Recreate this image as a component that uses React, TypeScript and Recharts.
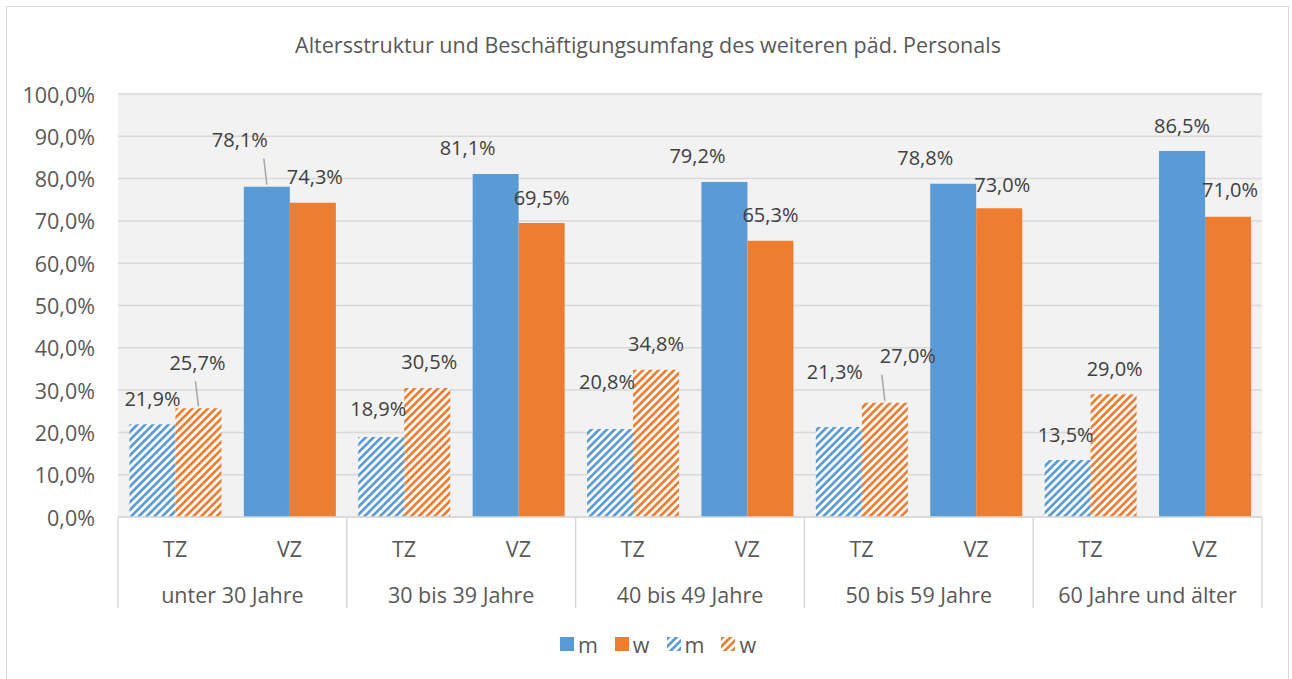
import { Bar, BarChart, CartesianGrid, Cell, LabelList, Legend, XAxis, YAxis } from 'recharts';

const ageGroups = ['unter 30 Jahre', '30 bis 39 Jahre', '40 bis 49 Jahre', '50 bis 59 Jahre', '60 Jahre und älter'];
const scopes = ['TZ', 'VZ'];
// order: TZ, VZ per age group
const mValues = [0.219, 0.781, 0.189, 0.811, 0.208, 0.792, 0.213, 0.788, 0.135, 0.865];
const wValues = [0.257, 0.743, 0.305, 0.695, 0.348, 0.653, 0.27, 0.73, 0.29, 0.71];
const yTicks = [0, 0.1, 0.2, 0.3, 0.4, 0.5, 0.6, 0.7, 0.8, 0.9, 1];
const legendItems = [
  { name: 'm', color: '#5b9bd5', hatched: false },
  { name: 'w', color: '#ed7d31', hatched: false },
  { name: 'm', color: '#5b9bd5', hatched: true },
  { name: 'w', color: '#ed7d31', hatched: true },
];

const data = ageGroups.flatMap((g, gi) =>
  scopes.map((s, si) => ({
    key: `${g}|${s}`,
    m: mValues[gi * 2 + si],
    w: wValues[gi * 2 + si],
  }))
);

const BLUE = '#5b9bd5';
const ORANGE = '#ed7d31';
const TEXT = '#595959';
const GRID = '#d9d9d9';
const FONT = '"Open Sans", sans-serif';
const FS = 21.5;
const LABEL_FS = 20;

const PLOT_LEFT = 118;
const PLOT_RIGHT = 1262;
const PLOT_BOTTOM = 517;
const BAND = (PLOT_RIGHT - PLOT_LEFT) / data.length;

// manual label nudges (dx, dy) as in the original, plus which ones get a leader line
const nudges: Record<string, number[][]> = {
  m: [[0, 0], [-27, -21], [-3, -3], [-28, 0], [-3, -22], [-27, 0], [-4, -29], [-28, 0], [-2, 1], [0, 0]],
  w: [[-1, -20], [2, 0], [2, 0], [0, 0], [0, 0], [0, 0], [23, -21], [3, 2], [1, 0], [2, -1]],
};
const leaders: Record<string, number[]> = { m: [1], w: [0, 6] };

const fmt = (v: number) => (v * 100).toFixed(1).replace('.', ',') + '%';

const makeLabel = (series: 'm' | 'w') => (props: any) => {
  const { x, y, width, index } = props;
  const vals = series === 'm' ? mValues : wValues;
  const [dx, dy] = nudges[series][index];
  const cx = x + width / 2;
  const ly = y - 26 + dy;
  return (
    <g>
      {leaders[series].includes(index) && (
        <line x1={cx - 3} y1={ly + 19} x2={cx} y2={y - 2} stroke="#a6a6a6" strokeWidth={1.5} />
      )}
      <text x={cx + dx} y={ly} textAnchor="middle" dominantBaseline="central" fill="#404040" fontSize={LABEL_FS} fontFamily={FONT}>
        {fmt(vals[index])}
      </text>
    </g>
  );
};

const YTick = (props: any) => (
  <text x={PLOT_LEFT - 23} y={props.y} textAnchor="end" dominantBaseline="central" fill={TEXT} fontSize={FS} fontFamily={FONT}>
    {fmt(props.payload.value)}
  </text>
);

const SubTick = (props: any) => (
  <text x={props.x} y={PLOT_BOTTOM + 31} textAnchor="middle" dominantBaseline="central" fill={TEXT} fontSize={FS} fontFamily={FONT}>
    {String(props.payload.value).split('|')[1]}
  </text>
);

const GroupTick = (props: any) => {
  const { x, index } = props;
  const isStart = index % 2 === 0;
  return (
    <g>
      {isStart && <line x1={x - BAND / 2} y1={PLOT_BOTTOM} x2={x - BAND / 2} y2={PLOT_BOTTOM + 91} stroke={GRID} strokeWidth={1.5} />}
      {index === data.length - 1 && (
        <line x1={x + BAND / 2} y1={PLOT_BOTTOM} x2={x + BAND / 2} y2={PLOT_BOTTOM + 91} stroke={GRID} strokeWidth={1.5} />
      )}
      {isStart && (
        <text x={x + BAND / 2} y={PLOT_BOTTOM + 77} textAnchor="middle" dominantBaseline="central" fill={TEXT} fontSize={FS} fontFamily={FONT}>
          {String(props.payload.value).split('|')[0]}
        </text>
      )}
    </g>
  );
};

const Hatch = ({ id, color }: { id: string; color: string }) => (
  <pattern id={id} patternUnits="userSpaceOnUse" width={5.5} height={5.5} patternTransform="rotate(45)">
    <rect width={5.5} height={5.5} fill="#ffffff" />
    <rect width={2.7} height={5.5} fill={color} />
  </pattern>
);

const LegendContent = () => (
  <div style={{ display: 'flex', justifyContent: 'center', height: 24, alignItems: 'center', fontFamily: FONT, fontSize: FS, color: TEXT, paddingLeft: 24 }}>
    {legendItems.map((it, i) => (
      <div key={i} style={{ display: 'flex', alignItems: 'center', marginRight: i === legendItems.length - 1 ? 0 : 17 }}>
        <svg width={14} height={14} style={{ marginRight: 4 }}>
          <defs>
            <Hatch id={`lg-${i}`} color={it.color} />
          </defs>
          <rect width={14} height={14} fill={it.hatched ? `url(#lg-${i})` : it.color} />
        </svg>
        <span>{it.name}</span>
      </div>
    ))}
  </div>
);

export default function App() {
  return (
    <div style={{ position: 'absolute', left: 0, top: 0, width: 1292, height: 679, background: '#fff', overflow: 'hidden' }}>
      <div style={{ position: 'absolute', left: 6, top: 6, width: 1283, height: 700, border: '1px solid #d9d9d9', boxSizing: 'border-box' }} />
      <div style={{ position: 'absolute', left: 0, width: 1296, top: 29, textAlign: 'center', fontFamily: FONT, fontSize: FS, color: TEXT, lineHeight: '32px' }}>
        Altersstruktur und Beschäftigungsumfang des weiteren päd. Personals
      </div>
      <div style={{ position: 'absolute', left: 0, top: 0 }}>
        <BarChart width={1292} height={679} data={data} margin={{ top: 94, right: 30, left: 18, bottom: 46 }} barCategoryGap="10%" barGap={0}>
          <defs>
            <Hatch id="hatch-m" color={BLUE} />
            <Hatch id="hatch-w" color={ORANGE} />
          </defs>
          <CartesianGrid vertical={false} stroke={GRID} strokeWidth={1.5} fill="#f2f2f2" />
          <YAxis domain={[0, 1]} ticks={yTicks} width={100} axisLine={false} tickLine={false} tick={<YTick />} interval={0} />
          <XAxis dataKey="key" height={46} interval={0} tickLine={false} axisLine={{ stroke: GRID, strokeWidth: 1.5 }} tick={<SubTick />} />
          <XAxis xAxisId="grp" dataKey="key" height={46} interval={0} tickLine={false} axisLine={false} tick={<GroupTick />} />
          <Legend verticalAlign="bottom" content={<LegendContent />} wrapperStyle={{ top: 632, left: 0, width: 1292 }} />
          <Bar dataKey="m" name="m" fill={BLUE} isAnimationActive={false}>
            {data.map((d, i) => (
              <Cell key={d.key} fill={i % 2 === 0 ? 'url(#hatch-m)' : BLUE} />
            ))}
            <LabelList dataKey="m" content={makeLabel('m')} />
          </Bar>
          <Bar dataKey="w" name="w" fill={ORANGE} isAnimationActive={false}>
            {data.map((d, i) => (
              <Cell key={d.key} fill={i % 2 === 0 ? 'url(#hatch-w)' : ORANGE} />
            ))}
            <LabelList dataKey="w" content={makeLabel('w')} />
          </Bar>
        </BarChart>
      </div>
    </div>
  );
}
